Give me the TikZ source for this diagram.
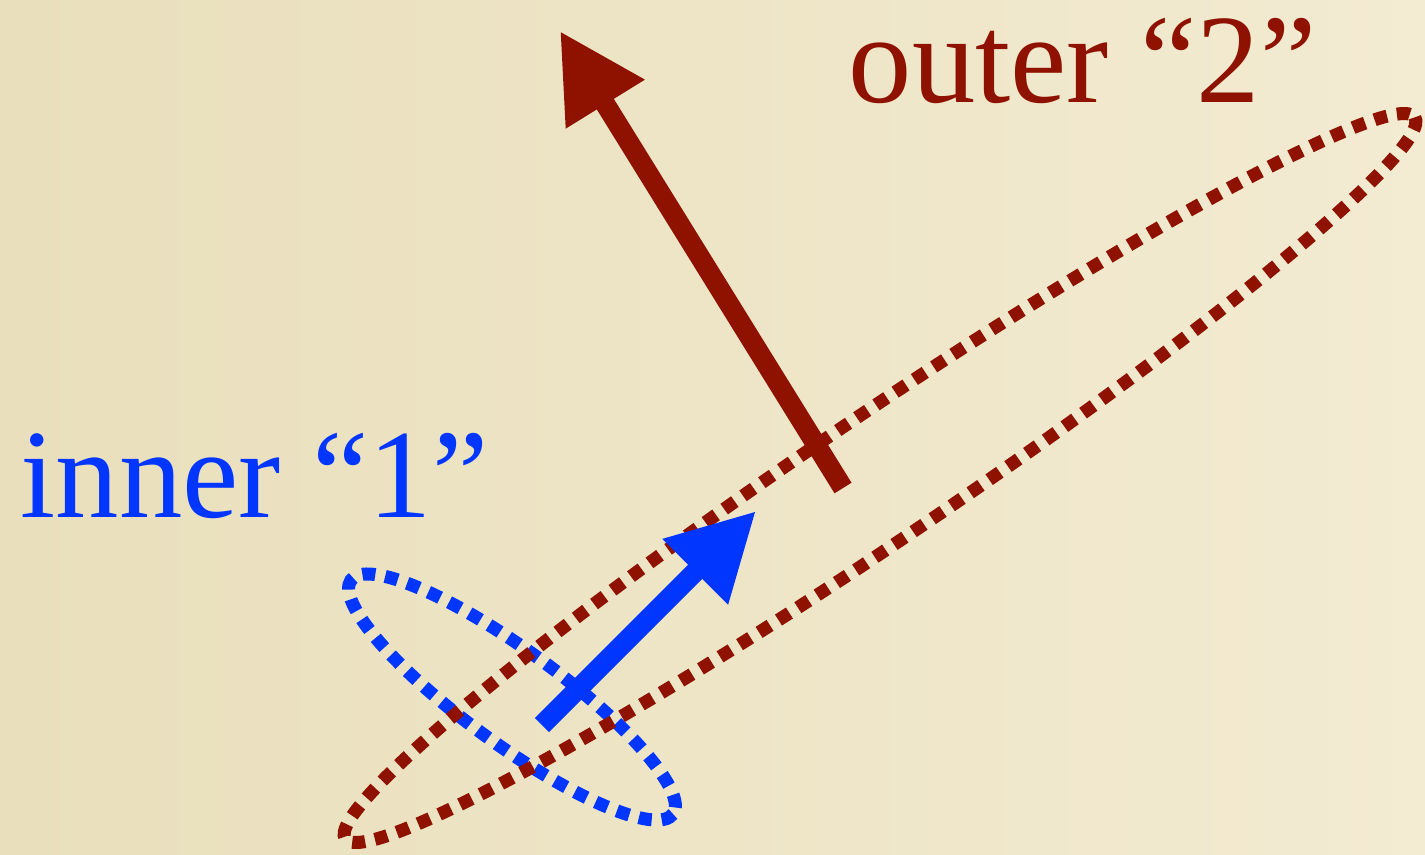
\documentclass[tikz,border=0pt]{standalone}
\usepackage{fontspec}
\setmainfont{Liberation Serif}
\usetikzlibrary{arrows.meta}

\definecolor{paperL}{HTML}{E9DFBC}
\definecolor{paperR}{HTML}{F3EBD2}
\definecolor{outerred}{HTML}{8F1200}
\definecolor{innerblue}{HTML}{0036FF}

\tikzset{
  label text/.style={anchor=base west, inner sep=0pt, font=\fontsize{36}{40}\selectfont},
  dotted loop/.style={line width=0.13cm, dash pattern=on 0.13cm off 0.1cm},
  fat arrow/.style={line width=0.2cm, -{Triangle[length=0.86cm,width=0.87cm]}}
}

\begin{document}
\begin{tikzpicture}[x=0.01cm, y=-0.01cm]

%---------------- background ----------------
\fill[left color=paperL, right color=paperR] (0,0) rectangle (1425,854);
\useasboundingbox (0,0) rectangle (1425,854);

%---------------- labels ----------------
\node[label text, text=innerblue] (inner) at (20,517) {inner “1”};
\node[label text, text=outerred] (outer) at (848,102) {outer “2”};

%---------------- loops ----------------
\draw[dotted loop, innerblue, rotate around={-36:(512,697)}]
  (512,697) ellipse [x radius=199, y radius=47];
\draw[dotted loop, outerred, rotate around={34:(880,478)}]
  (880,478) ellipse [x radius=645, y radius=63];

%---------------- arrows ----------------
\coordinate (innertail) at (542,725);
\coordinate (innertip) at (756,511);
\coordinate (outertail) at (843,488);
\coordinate (outertip) at (560,31);

\draw[fat arrow, innerblue] (innertail) -- (innertip);
\draw[fat arrow, outerred] (outertail) -- (outertip);

\end{tikzpicture}
\end{document}
